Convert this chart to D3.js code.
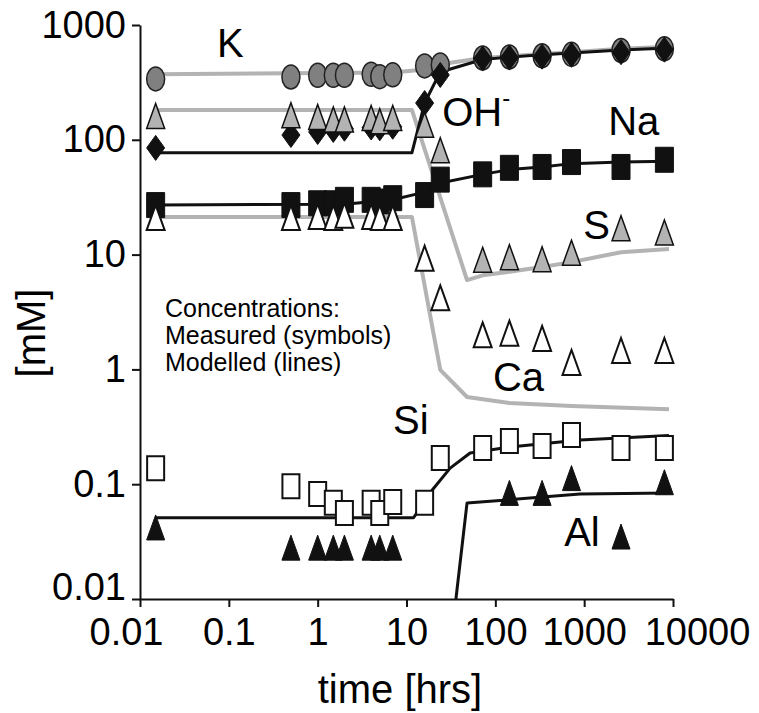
<!DOCTYPE html>
<html>
<head>
<meta charset="utf-8">
<title>Concentrations vs time</title>
<style>
  body, html { margin: 0; padding: 0; background: #fff; }
  svg { display: block; font-family: "Liberation Sans", Arial, Helvetica, sans-serif; }
</style>
</head>
<body>
<svg id="svg" width="759" height="713"></svg>
<script src="https://d3js.org/d3.v7.min.js"></script>
<script>
// sampling times [hrs]
const times = [0.015, 0.5, 1, 1.5, 2, 4, 5, 7, 16, 24, 72, 144, 336, 720, 2600, 8000]

// measured concentrations [mM]
const measK  = [339, 352, 365, 365, 365, 372, 355, 368, 440, 448, 516, 526, 540, 555, 600, 620]
const measOH = [85, 110, 117, 122, 125, 128, 126, 130, 209, 367, 510, 520, 530, 550, 580, 610]
const measS  = [161, 164, 158, 150, 150, 155, 145, 155, 135, 81, 9.0, 9.5, 9.1, 10.4, 17.0, 15.6]
const measNa = [27, 27, 28, 28, 30, 30, 29, 31, 33, 45, 50, 57, 58, 64, 58, 67]
const measCa = [21, 21, 21.5, 21, 22, 21.5, 21, 21, 9.3, 4.2, 2.0, 2.07, 1.86, 1.15, 1.46, 1.46]
const measSi = [0.138, 0.096, 0.082, 0.069, 0.056, 0.069, 0.056, 0.070, 0.069, 0.169, 0.207, 0.238, 0.215, 0.268, 0.207, 0.207]
const measAl = [0.042, 0.028, 0.028, 0.028, 0.028, 0.028, 0.028, 0.028, null, null, null, 0.084, 0.084, 0.113, 0.035, 0.104]

// modelled concentrations [mM]
const modelKT  = [0.015, 7, 16, 24, 72, 144, 336, 720, 2600, 9000]
const modelK   = [372, 385, 410, 455, 515, 535, 560, 580, 620, 645]
const modelOHT = [0.015, 11.5, 16, 24, 72, 144, 336, 720, 2600, 9000]
const modelOH  = [77, 77, 209, 390, 500, 525, 550, 570, 605, 630]
const modelST  = [0.015, 11.5, 48, 72, 144, 336, 720, 2600, 9000]
const modelS   = [182, 182, 6.0, 6.6, 7.1, 7.8, 8.6, 10.5, 11.2]
const modelNaT = [0.015, 2, 7, 16, 24, 72, 144, 336, 720, 2600, 9000]
const modelNa  = [27, 27.5, 30, 35, 42, 50, 55, 58, 62, 64, 65]
const modelCaT = [0.015, 11.5, 24, 48, 144, 720, 9000]
const modelCa  = [21.3, 21.3, 0.99, 0.575, 0.51, 0.48, 0.45]
const modelSiT = [0.015, 12, 19.5, 31, 52, 146, 900, 9000]
const modelSi  = [0.051, 0.051, 0.089, 0.138, 0.187, 0.211, 0.243, 0.265]
const modelAlT = [36, 48, 900, 9000]
const modelAl  = [0.01, 0.0685, 0.082, 0.084]

const xTicks = [0.01, 0.1, 1, 10, 100, 1000, 10000]
const xTickLabels = ['0.01', '0.1', '1', '10', '100', '1000', '10000']
const yTicks = [0.01, 0.1, 1, 10, 100, 1000]
const yTickLabels = ['0.01', '0.1', '1', '10', '100', '1000']

// species labels, anchored in data units (time, mM)
const speciesLabels = [
  { text: 'K',  t: 0.0736, v: 526 },
  { text: 'OH', t: 25.2,   v: 132, sup: '-' },
  { text: 'Na', t: 1862,   v: 110 },
  { text: 'S',  t: 975,    v: 13.7 },
  { text: 'Ca', t: 94,     v: 0.648 },
  { text: 'Si', t: 7.06,   v: 0.274 },
  { text: 'Al', t: 596,    v: 0.029 }
]
const noteLines = ['Concentrations:', 'Measured (symbols)', 'Modelled (lines)']

const svg = d3.select('#svg')

const x = d3.scaleLog().domain([0.01, 10000]).range([140, 673])
const y = d3.scaleLog().domain([0.01, 1000]).range([599, 25])

// axes
const xAxis = svg.append('g')
  .attr('transform', `translate(0,${y(0.01)})`)
  .call(d3.axisBottom(x).tickValues(xTicks)
    .tickFormat((d, i) => xTickLabels[i])
    .tickSize(8).tickSizeOuter(0).tickPadding(11))
const yAxis = svg.append('g')
  .attr('transform', `translate(${x(0.01)},0)`)
  .call(d3.axisLeft(y).tickValues(yTicks)
    .tickFormat((d, i) => yTickLabels[i])
    .tickSize(8).tickSizeOuter(0).tickPadding(6))

;[xAxis, yAxis].forEach(a => {
  a.select('.domain').attr('stroke', '#111').attr('stroke-width', 2)
  a.selectAll('.tick line').attr('stroke', '#111').attr('stroke-width', 2)
  a.selectAll('.tick text')
    .attr('fill', '#000')
    .style('font-size', '38px')
    .style('font-family', '"Liberation Sans", Arial, sans-serif')
})
// end labels are nudged apart like in the original
xAxis.selectAll('.tick text').attr('dx', (d, i) => i === 0 ? -14 : (i === xTicks.length - 1 ? 24 : 0))
yAxis.selectAll('.tick text').attr('transform', (d, i) => i === 0 ? 'translate(0,-12)' : null)

svg.append('text')
  .attr('x', 400).attr('y', 703)
  .attr('text-anchor', 'middle')
  .style('font-size', '40px')
  .text('time [hrs]')
svg.append('text')
  .attr('transform', 'translate(45,333) rotate(-90)')
  .attr('text-anchor', 'middle')
  .style('font-size', '40px')
  .text('[mM]')

// modelled lines
const plot = svg.append('g')
svg.append('clipPath').attr('id', 'clip')
  .append('rect').attr('x', 140).attr('y', 0).attr('width', 620).attr('height', 600)
plot.attr('clip-path', 'url(#clip)')

const line = d3.line()
  .x(d => x(d[0]))
  .y(d => y(d[1]))

const grey = '#b3b3b3'
const models = [
  { t: modelKT,  v: modelK,  color: grey,   w: 4 },
  { t: modelST,  v: modelS,  color: grey,   w: 4 },
  { t: modelCaT, v: modelCa, color: grey,   w: 4 },
  { t: modelOHT, v: modelOH, color: '#111', w: 3 },
  { t: modelNaT, v: modelNa, color: '#111', w: 3 },
  { t: modelSiT, v: modelSi, color: '#111', w: 3 },
  { t: modelAlT, v: modelAl, color: '#111', w: 3 }
]
models.forEach(m => {
  plot.append('path')
    .attr('d', line(m.t.map((t, i) => [t, m.v[i]])))
    .attr('fill', 'none')
    .attr('stroke', m.color)
    .attr('stroke-width', m.w)
    .attr('stroke-linejoin', 'round')
})

// measured symbols (slightly taller than wide)
function shapePath(shape, w, h) {
  const a = w / 2, b = h / 2
  if (shape === 'circle') return `M${-a},0A${a},${b} 0 1,0 ${a},0A${a},${b} 0 1,0 ${-a},0Z`
  if (shape === 'triangle') return `M0,${-b}L${a},${b}L${-a},${b}Z`
  if (shape === 'diamond') return `M0,${-b}L${a},0L0,${b}L${-a},0Z`
  return `M${-a},${-b}H${a}V${b}H${-a}Z`
}

const measured = [
  { v: measK,  shape: 'circle',   w: 18, h: 24, fill: '#808080', stroke: '#222', sw: 1.5 },
  { v: measOH, shape: 'diamond',  w: 18, h: 25, fill: '#111',    stroke: '#111', sw: 1 },
  { v: measS,  shape: 'triangle', w: 18, h: 25, fill: '#b3b3b3', stroke: '#111', sw: 1.5 },
  { v: measNa, shape: 'square',   w: 18, h: 25, fill: '#111',    stroke: '#111', sw: 1 },
  { v: measCa, shape: 'triangle', w: 18, h: 25, fill: '#fff',    stroke: '#111', sw: 2 },
  { v: measSi, shape: 'square',   w: 17, h: 24, fill: '#fff',    stroke: '#111', sw: 2 },
  { v: measAl, shape: 'triangle', w: 18, h: 25, fill: '#111',    stroke: '#111', sw: 1 }
]
measured.forEach(s => {
  const pts = times.map((t, i) => [t, s.v[i]]).filter(d => d[1] != null)
  svg.append('g').selectAll('path')
    .data(pts)
    .join('path')
    .attr('transform', d => `translate(${x(d[0])},${y(d[1])})`)
    .attr('d', shapePath(s.shape, s.w, s.h))
    .attr('fill', s.fill)
    .attr('stroke', s.stroke)
    .attr('stroke-width', s.sw)
})

// species labels
speciesLabels.forEach(l => {
  const t = svg.append('text')
    .attr('x', x(l.t)).attr('y', y(l.v))
    .style('font-size', '40px')
    .text(l.text)
  if (l.sup) {
    t.append('tspan').attr('dy', -20).style('font-size', '24px').text(l.sup)
  }
})

// note
svg.append('g').selectAll('text')
  .data(noteLines)
  .join('text')
  .attr('x', x(0.0191))
  .attr('y', (d, i) => 317 + i * 27)
  .style('font-size', '25px')
  .text(d => d)
</script>
</body>
</html>
